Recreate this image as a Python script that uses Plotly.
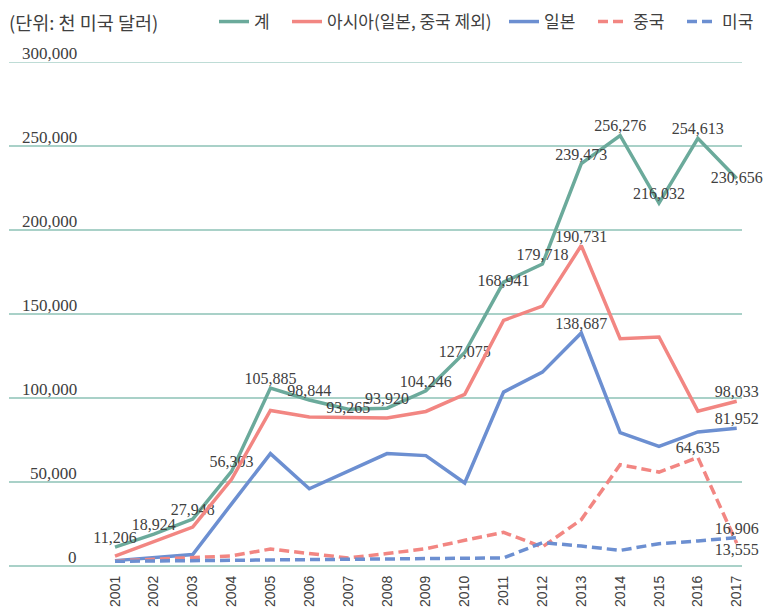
import plotly.graph_objects as go

years = list(range(2001, 2018))
year_labels = [str(y) for y in years]

total = [11206, 18924, 27948, 56303, 105885, 98844, 93265, 93920, 104246, 127075,
         168941, 179718, 239473, 256276, 216032, 254613, 230656]
asia = [5900, 14500, 23200, 51600, 92600, 88700, 88300, 88100, 92000, 102200,
        146200, 154700, 190731, 135300, 136300, 92200, 98033]
japan = [3200, 5000, 6800, 37000, 66900, 46000, 56500, 66900, 65700, 49400,
         103500, 115400, 138687, 79400, 71200, 79800, 81952]
china = [3000, 4000, 4800, 6000, 10100, 7400, 4800, 7400, 10300, 15300,
         20000, 11300, 27600, 60300, 55900, 64635, 13555]
usa = [2800, 3000, 3200, 3300, 3400, 3800, 3800, 4000, 4000, 4400,
       4800, 13900, 11900, 9300, 13300, 14900, 16906]

series_names = ["계", "아시아(일본, 중국 제외)", "일본", "중국", "미국"]
y_ticks = [0, 50000, 100000, 150000, 200000, 250000, 300000]
y_tick_labels = ["0", "50,000", "100,000", "150,000", "200,000", "250,000", "300,000"]
unit_title = "(단위: 천 미국 달러)"

# which points carry a value label
total_lbl = [True] * 17
asia_lbl = [False] * 12 + [True] + [False] * 3 + [True]
japan_lbl = [False] * 12 + [True] + [False] * 3 + [True]
china_lbl = [False] * 15 + [True, True]
usa_lbl = [False] * 16 + [True]

total_pos = ["top center"] * 17
total_pos[6] = "middle center"
total_pos[9] = "middle center"
total_pos[10] = "middle center"
total_pos[16] = "middle center"
china_pos = ["top center"] * 16 + ["bottom center"]

GREEN = "#6BAA9B"
SALMON = "#F28682"
BLUE = "#6C8FD1"
GRID = "#A9D1C8"
TXT = "#404040"
SERIF = "Liberation Serif"
KR = "Noto Sans CJK KR"

PLOT_L, PLOT_W, PLOT_T, PLOT_H = 9, 733, 62, 504


def fmt(vals, flags):
    return [f"{v:,}" if f else "" for v, f in zip(vals, flags)]


legend_ids = ["legend", "legend2", "legend3", "legend4", "legend5"]
legend_px = [214, 287, 504, 593, 682]

fig = go.Figure()
specs = [
    (total, total_lbl, total_pos, GREEN, "solid"),
    (asia, asia_lbl, "top center", SALMON, "solid"),
    (japan, japan_lbl, "top center", BLUE, "solid"),
    (china, china_lbl, china_pos, SALMON, "10px,5px"),
    (usa, usa_lbl, "top center", BLUE, "10px,5px"),
]
for name, lg, (vals, flags, pos, col, dash) in zip(series_names, legend_ids, specs):
    fig.add_trace(go.Scatter(
        x=years, y=vals, name=name, mode="lines+text", legend=lg,
        text=fmt(vals, flags), textposition=pos,
        textfont=dict(family=SERIF, size=16, color=TXT),
        line=dict(color=col, width=3.5, dash=dash),
        cliponaxis=False, hoverinfo="skip",
    ))

for v, t in zip(y_ticks, y_tick_labels):
    fig.add_annotation(xref="paper", yref="y", x=(79 - PLOT_L) / PLOT_W, y=v,
                       text=t, showarrow=False, xanchor="right", yanchor="middle",
                       yshift=8.5, font=dict(family=SERIF, size=17, color=TXT))

fig.add_hline(y=y_ticks[-1], line=dict(color=GRID, width=1.5), layer="below")

top_y = 1 + (PLOT_T - 22) / PLOT_H
fig.add_annotation(xref="paper", yref="paper", x=0, y=top_y,
                   text=unit_title, showarrow=False, xanchor="left", yanchor="middle",
                   xshift=-2, font=dict(family=KR, size=18.5, color=TXT))

legend_layout = {}
for lg, px in zip(legend_ids, legend_px):
    legend_layout[lg] = dict(orientation="h", x=(px - PLOT_L) / PLOT_W, xanchor="left",
                             y=top_y, yanchor="middle",
                             font=dict(family=KR, size=17, color=TXT),
                             itemwidth=30, bgcolor="rgba(0,0,0,0)")

fig.update_layout(
    width=764, height=610,
    margin=dict(l=PLOT_L, r=764 - PLOT_L - PLOT_W, t=PLOT_T, b=610 - PLOT_T - PLOT_H,
                autoexpand=False),
    paper_bgcolor="white", plot_bgcolor="white",
    showlegend=True,
    xaxis=dict(range=[1998.272, 2017.136], tickmode="array", tickvals=years,
               ticktext=year_labels, tickangle=-90, showgrid=False, zeroline=False,
               showline=False, ticks="", ticklabelstandoff=6,
               tickfont=dict(family="Liberation Sans", size=14, color=TXT)),
    yaxis=dict(range=[0, 300000], tickvals=y_ticks, showticklabels=False,
               showgrid=True, gridcolor=GRID, gridwidth=1.5, zeroline=True,
               zerolinecolor=GRID, zerolinewidth=1.5, showline=False, ticks=""),
    **legend_layout,
)

fig.write_html("out.html", config={"displayModeBar": False},
               post_script="document.body.style.margin='0';")
